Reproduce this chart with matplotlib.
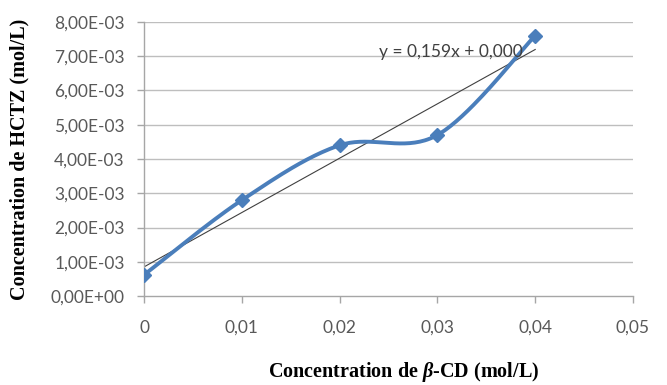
import numpy as np
import matplotlib
matplotlib.use('Agg')
import matplotlib.pyplot as plt

# concentration data (mol/L)
conc_cd = [0.0, 0.01, 0.02, 0.03, 0.04]
conc_hctz = [0.62e-3, 2.80e-3, 4.40e-3, 4.70e-3, 7.60e-3]

x_ticks = [0, 0.01, 0.02, 0.03, 0.04, 0.05]
y_ticks = [i * 1e-3 for i in range(9)]

blue = '#4A7EBB'
grey = '#595959'

plt.rcParams['mathtext.fontset'] = 'custom'
plt.rcParams['mathtext.it'] = 'Liberation Serif:italic:bold'
plt.rcParams['mathtext.rm'] = 'Liberation Serif:bold'


def smooth_curve(x, y, n=40):
    # cubic bezier through the points, control points like a Catmull-Rom spline
    p = np.column_stack([x, y])
    pts = np.vstack([p[0], p, p[-1]])
    out = []
    for i in range(1, len(pts) - 2):
        p0, p1, p2, p3 = pts[i - 1], pts[i], pts[i + 1], pts[i + 2]
        c1 = p1 + (p2 - p0) / 6.0
        c2 = p2 - (p3 - p1) / 6.0
        t = np.linspace(0, 1, n)[:, None]
        seg = ((1 - t) ** 3) * p1 + 3 * ((1 - t) ** 2) * t * c1 + 3 * (1 - t) * t ** 2 * c2 + t ** 3 * p2
        out.append(seg)
    out = np.vstack(out)
    return out[:, 0], out[:, 1]


fig = plt.figure(figsize=(6.67, 3.85), dpi=100)
ax = fig.add_axes([0.216, 0.231, 0.733, 0.712])

for yt in y_ticks[1:]:
    ax.axhline(yt, color='#BEBEBE', lw=1.0, zorder=0)

sx, sy = smooth_curve(conc_cd, conc_hctz)
ax.plot(sx, sy, color=blue, lw=2.8, zorder=3, solid_capstyle='round')
ax.plot(conc_cd, conc_hctz, ls='none', marker='D', ms=7.5, color=blue, zorder=4)

# linear trend line
a, b = np.polyfit(conc_cd, conc_hctz, 1)
tx = np.array([conc_cd[0], conc_cd[-1]])
ax.plot(tx, a * tx + b, color='#404040', lw=0.8, zorder=2)
# intercept shown truncated to three decimals
eq = ('y = %.3fx + %.3f' % (a, np.floor(b * 1000) / 1000)).replace('.', ',')
ax.text(0.0314, 7.12e-3, eq, ha='center', va='center',
        fontsize=12.5, color='#404040', family='Lato', zorder=5)

ax.set_xlim(0, 0.05)
ax.set_ylim(0, 0.008)
ax.set_xticks(x_ticks)
ax.set_yticks(y_ticks)
ax.set_xticklabels(['0'] + [('%.2f' % v).replace('.', ',') for v in x_ticks[1:]])
ax.set_yticklabels([('%.2E' % v).replace('.', ',') for v in y_ticks])

for s in ['top', 'right']:
    ax.spines[s].set_visible(False)
for s in ['left', 'bottom']:
    ax.spines[s].set_color('#A6A6A6')
    ax.spines[s].set_linewidth(1.0)
ax.tick_params(axis='both', color='#A6A6A6', length=5, width=1.0, labelcolor=grey, labelsize=12.5)
ax.tick_params(axis='y', pad=9)
ax.tick_params(axis='x', pad=12)
for lab in ax.get_xticklabels() + ax.get_yticklabels():
    lab.set_family('Lato')

ax.set_xlabel(r'Concentration de $\mathit{\beta}$-CD (mol/L)', family='Liberation Serif',
              fontweight='bold', fontsize=14.5, va='center')
ax.set_ylabel('Concentration de HCTZ (mol/L)', family='Liberation Serif',
              fontweight='bold', fontsize=14.5, va='center')
ax.xaxis.set_label_coords(0.53, -0.278)
ax.yaxis.set_label_coords(-0.254, 0.5)

fig.savefig('out.png', dpi=100)
